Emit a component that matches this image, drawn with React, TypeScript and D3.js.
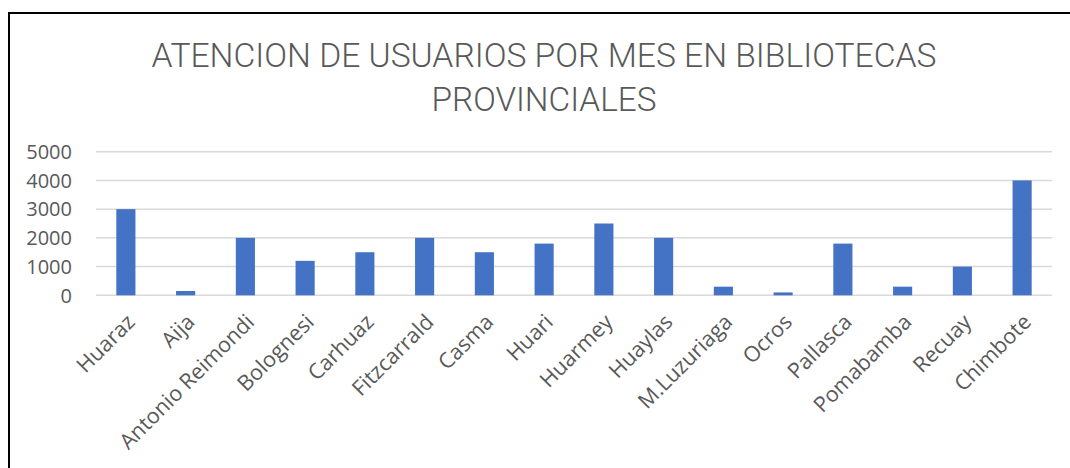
import React from "react";
import * as d3 from "d3";

const categories = [
  "Huaraz", "Aija", "Antonio Reimondi", "Bolognesi", "Carhuaz", "Fitzcarrald",
  "Casma", "Huari", "Huarmey", "Huaylas", "M.Luzuriaga", "Ocros", "Pallasca",
  "Pomabamba", "Recuay", "Chimbote",
];
const values = [3000, 150, 2000, 1200, 1500, 2000, 1500, 1800, 2500, 2000, 300, 100, 1800, 300, 1000, 4000];
const yTicks = [0, 1000, 2000, 3000, 4000, 5000];
const titleLines = ["ATENCION DE USUARIOS POR MES EN BIBLIOTECAS", "PROVINCIALES"];

export default function App() {
  const W = 1070, H = 468;
  const left = 96, right = 1052, top = 151.7, bottom = 295.3;
  const x = d3.scaleBand<string>().domain(categories).range([left, right]).paddingInner(0.68).paddingOuter(0.34);
  const y = d3.scaleLinear().domain([0, 5000]).range([bottom, top]);
  const grey = "#595959";
  const titleFont = "Roboto, 'Liberation Sans', Arial, sans-serif";
  return (
    <svg width={W} height={H} style={{ position: "absolute", left: 0, top: 0, background: "#fff" }}>
      <rect x={0} y={0} width={W} height={H} fill="#fff" />
      <rect x={9} y={13} width={1100} height={500} fill="none" stroke="#000" strokeWidth={2} />
      <text x={544} y={67} textAnchor="middle" fill={grey} fontFamily={titleFont} fontWeight={300} fontSize={34} textLength={785} lengthAdjust="spacingAndGlyphs">{titleLines[0]}</text>
      <text x={544} y={111} textAnchor="middle" fill={grey} fontFamily={titleFont} fontWeight={300} fontSize={34} textLength={225} lengthAdjust="spacingAndGlyphs">{titleLines[1]}</text>
      {yTicks.map((t) => (
        <g key={t}>
          <line x1={left} x2={right} y1={y(t)} y2={y(t)} stroke="#d9d9d9" strokeWidth={1.5} />
          <text x={72} y={y(t)} dy="0.36em" textAnchor="end" fill={grey} fontFamily="'Open Sans', sans-serif" fontSize={20}>{t}</text>
        </g>
      ))}
      {categories.map((c, i) => (
        <rect key={c} x={x(c)} y={y(values[i])} width={x.bandwidth()} height={bottom - y(values[i])} fill="#4472C4" />
      ))}
      {categories.map((c) => {
        const cx = (x(c) as number) + x.bandwidth() / 2 + 5;
        return (
          <text key={c} transform={`translate(${cx},${318}) rotate(-45)`} textAnchor="end" dy="0.35em" fill={grey} fontFamily="'Open Sans', sans-serif" fontSize={21.5}>{c}</text>
        );
      })}
    </svg>
  );
}
